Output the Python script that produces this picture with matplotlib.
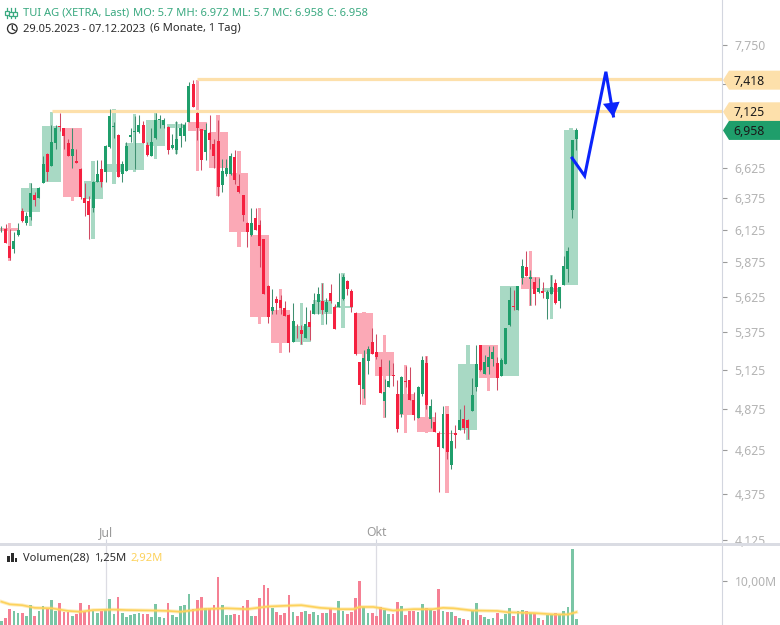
import numpy as np
import matplotlib
matplotlib.use("Agg")
import matplotlib.pyplot as plt
from matplotlib.patches import Polygon, Rectangle, Circle
from matplotlib.lines import Line2D

plt.rcParams['font.family'] = ['Noto Sans', 'DejaVu Sans']

opens = [6.127, 6.129, 6.00, 5.976, 6.087, 6.274, 6.181, 6.227, 6.403, 6.378,
         6.50, 6.743, 6.644, 6.838, 6.986, 6.969, 6.838, 6.729, 6.683, 6.616,
         6.378, 6.357, 6.298, 6.511, 6.616, 6.59, 6.806, 6.983, 6.91, 6.575,
         6.60, 6.889, 6.936, 6.936, 6.995, 6.82, 6.724, 6.88, 7.042, 6.995,
         6.977, 6.795, 6.78, 6.90, 6.90, 7.025, 7.376, 7.108, 6.96, 6.763,
         6.93, 6.829, 6.855, 6.486, 6.575, 6.575, 6.717, 6.476, 6.403, 6.18,
         6.082, 6.22, 6.165, 6.05, 5.70, 5.522, 5.608, 5.60, 5.545, 5.496,
         5.312, 5.407, 5.393, 5.339, 5.448, 5.503, 5.587, 5.594, 5.517, 5.651,
         5.554, 5.552, 5.608, 5.737, 5.665, 5.51, 5.173, 5.00, 5.18, 5.312,
         5.239, 5.14, 4.925, 5.012, 5.089, 4.968, 4.844, 5.055, 5.057, 4.93,
         4.82, 4.968, 5.167, 4.814, 4.796, 4.73, 4.64, 4.844, 4.542, 4.73,
         4.747, 4.814, 4.808, 4.862, 5.012, 5.292, 5.10, 5.14, 5.193, 5.167,
         5.082, 5.16, 5.428, 5.559, 5.531, 5.759, 5.84, 5.752, 5.73, 5.658,
         5.665, 5.608, 5.644, 5.723, 5.594, 5.709, 5.825, 6.282, 6.872]
highs = [6.155, 6.173, 6.134, 6.11, 6.18, 6.295, 6.266, 6.50, 6.424, 6.465,
         6.729, 6.752, 6.995, 6.995, 7.108, 6.975, 6.878, 6.975, 6.792, 6.622,
         6.50, 6.397, 6.52, 6.694, 6.694, 6.823, 7.144, 7.03, 6.922, 6.686,
         6.845, 6.975, 7.078, 7.093, 7.033, 6.845, 6.975, 7.108, 7.093, 7.063,
         6.99, 6.916, 7.033, 7.019, 7.028, 7.395, 7.414, 7.114, 6.966, 7.019,
         7.093, 6.878, 7.048, 6.70, 6.70, 6.752, 6.777, 6.575, 6.405, 6.186,
         6.298, 6.298, 6.204, 6.05, 5.706, 5.68, 5.632, 5.64, 5.597, 5.499,
         5.58, 5.434, 5.425, 5.554, 5.529, 5.651, 5.694, 5.723, 5.615, 5.716,
         5.573, 5.795, 5.788, 5.744, 5.68, 5.517, 5.173, 5.252, 5.283, 5.407,
         5.361, 5.193, 5.065, 5.186, 5.167, 5.057, 5.082, 5.152, 5.14, 4.981,
         5.018, 5.212, 5.212, 4.937, 4.856, 4.74, 4.893, 4.844, 4.747, 4.777,
         4.875, 4.90, 4.814, 5.07, 5.292, 5.292, 5.219, 5.279, 5.285, 5.206,
         5.20, 5.407, 5.694, 5.672, 5.70, 5.899, 5.958, 5.818, 5.766, 5.759,
         5.73, 5.672, 5.78, 5.752, 5.694, 5.921, 5.989, 6.863, 6.972]
lows = [6.11, 6.019, 5.894, 5.943, 6.077, 6.185, 6.16, 6.198, 6.316, 6.376,
        6.50, 6.52, 6.644, 6.786, 6.95, 6.786, 6.724, 6.63, 6.666, 6.37,
        6.235, 6.057, 6.265, 6.511, 6.465, 6.511, 6.80, 6.887, 6.548, 6.511,
        6.60, 6.845, 6.616, 6.93, 6.838, 6.729, 6.724, 6.875, 6.975, 6.975,
        6.743, 6.786, 6.743, 6.81, 6.86, 7.025, 7.159, 6.866, 6.61, 6.694,
        6.786, 6.624, 6.392, 6.43, 6.556, 6.567, 6.492, 6.42, 6.19, 5.99,
        6.075, 6.12, 5.84, 5.646, 5.436, 5.503, 5.50, 5.503, 5.489, 5.239,
        5.312, 5.339, 5.294, 5.339, 5.32, 5.503, 5.503, 5.503, 5.43, 5.58,
        5.40, 5.552, 5.60, 5.64, 5.517, 5.22, 4.908, 4.943, 5.097, 5.226,
        5.195, 4.975, 4.826, 5.012, 5.018, 4.735, 4.826, 5.012, 4.93, 4.808,
        4.82, 4.955, 4.875, 4.76, 4.735, 4.384, 4.64, 4.576, 4.519, 4.64,
        4.747, 4.73, 4.693, 4.862, 4.987, 5.114, 5.10, 5.10, 5.147, 4.993,
        5.082, 5.16, 5.42, 5.531, 5.531, 5.716, 5.773, 5.566, 5.566, 5.651,
        5.615, 5.468, 5.644, 5.573, 5.545, 5.709, 5.73, 6.22, 6.777]
closes = [6.134, 6.019, 5.911, 6.039, 6.12, 6.19, 6.233, 6.419, 6.362, 6.456,
          6.658, 6.595, 6.853, 6.971, 6.977, 6.90, 6.729, 6.786, 6.666, 6.389,
          6.338, 6.243, 6.511, 6.575, 6.506, 6.815, 7.078, 6.989, 6.553, 6.658,
          6.815, 6.907, 6.95, 6.995, 6.838, 6.735, 6.845, 7.048, 7.054, 7.048,
          6.78, 6.82, 6.872, 6.975, 6.998, 7.358, 7.159, 6.969, 6.694, 6.951,
          6.866, 6.729, 6.47, 6.60, 6.63, 6.724, 6.527, 6.427, 6.243, 6.105,
          6.18, 6.12, 5.998, 5.646, 5.482, 5.552, 5.58, 5.545, 5.489, 5.30,
          5.455, 5.402, 5.366, 5.434, 5.414, 5.573, 5.644, 5.531, 5.587, 5.594,
          5.40, 5.587, 5.766, 5.68, 5.552, 5.226, 5.025, 5.20, 5.265, 5.226,
          5.206, 4.975, 4.981, 5.05, 5.082, 4.753, 5.076, 5.044, 4.93, 4.838,
          5.012, 5.186, 4.90, 4.893, 4.735, 4.646, 4.844, 4.617, 4.682, 4.717,
          4.808, 4.759, 4.759, 4.962, 5.16, 5.12, 5.173, 5.206, 5.245, 5.07,
          5.186, 5.407, 5.60, 5.552, 5.70, 5.847, 5.773, 5.766, 5.644, 5.687,
          5.651, 5.658, 5.694, 5.58, 5.694, 5.847, 5.958, 6.863, 6.958]

# weekly overlay
week_x = [2, 7, 12, 17, 22, 27, 32, 37, 42, 47, 52, 57, 62, 67, 72, 77, 82, 87,
          92, 97, 102, 107, 112, 117, 122, 127, 132, 136.7]
week_o = [6.139, 6.267, 6.505, 6.969, 6.37, 6.595, 6.608, 6.815, 6.969, 7.03,
          6.933, 6.583, 6.087, 5.531, 5.312, 5.503, 5.545, 5.51, 5.239, 4.968,
          4.826, 4.73, 4.747, 5.292, 5.082, 5.766, 5.658, 5.709]
week_h = [6.18, 6.50, 7.12, 6.969, 6.689, 7.144, 7.095, 7.108, 7.028, 7.414,
          7.09, 6.775, 6.295, 5.68, 5.578, 5.723, 5.795, 5.517, 5.36, 5.153,
          5.212, 4.893, 5.292, 5.292, 5.70, 5.958, 5.78, 6.972]
week_l = [5.883, 6.155, 6.505, 6.357, 6.057, 6.49, 6.595, 6.706, 6.743, 6.60,
          6.392, 5.99, 5.43, 5.234, 5.287, 5.425, 5.402, 4.90, 4.82, 4.73,
          4.73, 4.38, 4.688, 4.99, 5.082, 5.559, 5.466, 5.709]
week_c = [6.113, 6.456, 6.986, 6.389, 6.517, 6.658, 6.838, 7.048, 7.004, 6.945,
          6.624, 6.105, 5.482, 5.30, 5.42, 5.60, 5.559, 5.226, 5.084, 4.838,
          4.735, 4.723, 5.16, 5.07, 5.70, 5.68, 5.687, 6.958]
week_w = [4.56] * 27 + [3.5]

volume = [0.9, 1.7, 3.6, 3.2, 2.7, 2.7, 2.1, 4.5, 2.1, 3.2, 4.3, 3.8, 5.7, 3.2, 4.9, 3.0,
          3.0, 2.1, 2.6, 4.9, 3.0, 4.5, 3.2, 2.7, 3.2, 3.6, 5.9, 2.6, 6.4, 2.7, 1.9, 2.3,
          2.6, 2.7, 2.5, 2.4, 1.9, 4.8, 1.8, 1.7, 5.0, 2.3, 1.9, 4.3, 4.5, 7.0, 3.6, 5.7,
          6.4, 3.9, 3.8, 4.5, 10.9, 4.5, 2.3, 2.3, 2.6, 2.3, 4.3, 5.7, 2.0, 2.0, 6.1, 9.1,
          8.4, 3.8, 3.0, 2.3, 2.7, 6.8, 3.0, 2.0,
          2.9, 3.2, 2.6, 3.0, 2.3, 2.7, 2.7, 3.6, 2.7, 5.5, 3.2, 2.4, 2.9, 6.2, 10.0, 4.2,
          2.7, 2.7, 2.1, 4.2, 3.4, 2.5, 2.5, 5.2, 4.3, 2.3, 3.2, 3.2, 3.0, 4.8, 3.9, 3.4,
          3.2, 8.2, 3.2, 3.0, 3.0, 2.0, 1.6, 1.4, 1.1, 3.4, 5.0, 2.3, 1.8, 1.4, 1.6, 2.7,
          1.4, 2.5, 3.9, 2.0, 3.2, 3.4, 3.2, 2.7, 2.7, 1.6, 1.1, 2.3, 2.3, 2.7, 2.3, 3.2,
          4.1, 17.3, 1.25]

ma_x = [0, 2, 5, 8, 12, 16, 19, 22, 27, 30, 36, 40, 43, 48, 54, 59, 64, 69, 72, 76.5, 81.3,
        84.5, 86, 89.3, 94, 99, 103.6, 106, 108.5, 113, 119, 121.5, 128, 132.6, 136, 138]
ma_y = [5.3, 4.7, 4.5, 3.9, 3.8, 3.2, 3.0, 3.4, 3.5, 3.4, 3.3, 3.2, 3.0, 3.6, 3.8, 3.6, 4.2,
        4.4, 4.5, 3.9, 3.6, 3.6, 4.1, 4.1, 3.3, 3.6, 3.6, 3.9, 3.8, 3.3, 3.2, 2.9, 2.7, 2.4,
        2.4, 2.92]

level_prices = [7.418, 7.125]
level_start = [47, 12.15]
price_ticks = [7.75, 7.375, 6.625, 6.375, 6.125, 5.875, 5.625, 5.375, 5.125, 4.875, 4.625, 4.375, 4.125]
price_labels = ['7,750', '', '6,625', '6,375', '6,125', '5,875', '5,625', '5,375', '5,125', '4,875',
                '4,625', '4,375', '4,125']
month_ticks = [25, 90]
month_labels = ['Jul', 'Okt']
arrow_x = [137.0, 140.0, 145.1, 146.9]
arrow_y = [6.71, 6.56, 7.49, 7.08]
head_x = [144.4, 146.9, 148.4]
head_y = [7.19, 7.07, 7.21]

GREEN = '#1f9e6b'
RED = '#f5203f'
GREEN_WICK = '#3f8f70'
RED_WICK = '#cf4a63'
GREEN_BOX = '#a8d9c4'
RED_BOX = '#fba9b6'
LEVEL = '#fde0ab'
AXIS = '#d3d6df'
GREY = '#b3b3b3'
W, H = 780, 625


def fpx(x, y):
    return x / W, 1 - y / H


fig = plt.figure(figsize=(7.8, 6.25), dpi=100, facecolor='white')
ax = fig.add_axes([0, 1 - 543 / H, 722 / W, 543 / H])
vax = fig.add_axes([0, 0, 722 / W, 79 / H])

idx = np.arange(len(closes))
o, h, l, c = map(np.array, (opens, highs, lows, closes))
up = c >= o

# weekly boxes
for x, wo, wh, wl, wc, ww in zip(week_x, week_o, week_h, week_l, week_c, week_w):
    col = GREEN_BOX if wc >= wo else RED_BOX
    ax.bar(x, abs(wc - wo), bottom=min(wo, wc), width=ww, color=col, linewidth=0, zorder=1)
    ax.bar(x, wh - wl, bottom=wl, width=0.8, color=col, linewidth=0, zorder=1)

for p, s in zip(level_prices, level_start):
    ax.hlines(p, s, 173, color=LEVEL, linewidth=2.3, zorder=2)

# daily candles
ax.vlines(idx[up], l[up], h[up], color=GREEN_WICK, linewidth=0.75, zorder=3)
ax.vlines(idx[~up], l[~up], h[~up], color=RED_WICK, linewidth=0.75, zorder=3)
ax.bar(idx[up], (c - o)[up], bottom=o[up], width=0.72, color=GREEN, linewidth=0, zorder=4)
ax.bar(idx[~up], (o - c)[~up], bottom=c[~up], width=0.72, color=RED, linewidth=0, zorder=4)

# hand drawn arrow
ax.plot(arrow_x, arrow_y, color='#0b24fb', linewidth=2.2, solid_joinstyle='miter', zorder=6)
ax.fill(head_x, head_y, color='#0b24fb', linewidth=0, zorder=6)

ax.set_yscale('log')
ax.set_xlim(-0.336, 172.97)
ax.set_ylim(4.110, 8.207)
ax.minorticks_off()
ax.yaxis.tick_right()
ax.set_yticks(price_ticks)
ax.set_yticklabels(price_labels, fontsize=8.8, color=GREY)
ax.tick_params(axis='y', which='major', length=3.5, width=0.8, color='#9a9a9a', pad=5.5)
ax.tick_params(axis='y', which='minor', length=0, labelright=False)
ax.set_xticks(month_ticks)
ax.set_xticklabels(month_labels, fontsize=8.8, color='#9a9a9a')
ax.tick_params(axis='x', direction='in', length=3, width=0.8, color=AXIS, pad=-12)
for s in ['top', 'left', 'bottom']:
    ax.spines[s].set_visible(False)
ax.spines['right'].set_color(AXIS)

# volume pane
vax.bar(idx, volume, width=0.65, color=['#7ac5a5' if u else '#f58094' for u in up], linewidth=0, zorder=2)
vax.plot(ma_x, ma_y, color='#fdd25c', linewidth=2.6, alpha=0.4, zorder=3)
vax.plot(ma_x, ma_y, color='#fdd25c', linewidth=1.2, zorder=4)
for t in month_ticks:
    vax.axvline(t, color='#dcdce3', linewidth=0.9, zorder=1)
vax.set_xlim(-0.336, 172.97)
vax.set_ylim(0, 17.95)
vax.yaxis.tick_right()
vax.set_yticks([10])
vax.set_yticklabels(['10,00M'], fontsize=8.8, color=GREY)
vax.tick_params(axis='y', length=3.5, width=0.8, color='#9a9a9a', pad=5.5)
vax.set_xticks([])
for s in ['top', 'left', 'bottom']:
    vax.spines[s].set_visible(False)
vax.spines['right'].set_color(AXIS)

# pane separator, sits over the cut off 4,125 label
fig.add_artist(Rectangle(fpx(0, 546), 1, 3 / H, transform=fig.transFigure, color='#dadce3', linewidth=0, zorder=5))

# price tags on the right
tags = [(7.418, LEVEL, '7,418'), (7.125, LEVEL, '7,125'), (6.958, GREEN, '6,958')]
for price, col, txt in tags:
    yc = H - ax.transData.transform((0, price))[1] + 0.8
    pts = [fpx(723, yc), fpx(729, yc - 9.5), fpx(780, yc - 9.5), fpx(780, yc + 9.5), fpx(729, yc + 9.5)]
    fig.add_artist(Polygon(pts, closed=True, transform=fig.transFigure, color=col, linewidth=0, zorder=6))
    tx, ty = fpx(733, yc + 1)
    fig.text(tx, ty, txt, fontsize=8.8, color='#1a1a1a', va='center', ha='left', zorder=7)

# header text
header = [(23, 13, 'TUI AG (XETRA, Last)', '#3aa980'),
          (133, 13, 'MO: 5.7 MH: 6.972 ML: 5.7 MC: 6.958', '#3aa980'),
          (327, 13, 'C: 6.958', '#3aa980'),
          (23, 29, '29.05.2023 - 07.12.2023', '#2b2b2b'),
          (150, 29, '(6 Monate, 1 Tag)', '#2b2b2b'),
          (23, 558, 'Volumen(28)', '#2b2b2b'),
          (94, 558, '1,25M', '#2b2b2b'),
          (130, 558, '2,92M', '#fdd25c')]
for px, py, txt, col in header:
    tx, ty = fpx(px, py)
    fig.text(tx, ty, txt, fontsize=8, color=col, va='center', zorder=7)

# header icons
for x, y0, y1, b0, b1 in [(7, 8, 18, 11, 15), (11, 7.5, 18, 12, 16), (15, 8, 18, 11.5, 15.5)]:
    fig.add_artist(Line2D([x / W, x / W], [1 - y0 / H, 1 - y1 / H], color='#3aa980', linewidth=0.9, zorder=7))
    fig.add_artist(Rectangle(fpx(x - 1.6, b1), 3.2 / W, (b1 - b0) / H, transform=fig.transFigure,
                             facecolor='white', edgecolor='#3aa980', linewidth=0.9, zorder=8))
fig.add_artist(Line2D([12.3 / W, 12.3 / W, 15 / W], [1 - 25.5 / H, 1 - 29 / H, 1 - 30.5 / H],
                      color='#2b2b2b', linewidth=0.9, zorder=7))
ax.add_patch(Circle((12.3, H - 28.7), 4.8, transform=None, fill=False, edgecolor='#2b2b2b', linewidth=0.9,
                    clip_on=False, zorder=7))
for x, top in [(8.5, 556), (12.5, 553), (16, 558)]:
    fig.add_artist(Rectangle(fpx(x - 1.3, 562), 2.6 / W, (562 - top) / H, transform=fig.transFigure,
                             color='#2b2b2b', linewidth=0, zorder=7))

fig.savefig('out.png', dpi=100)
